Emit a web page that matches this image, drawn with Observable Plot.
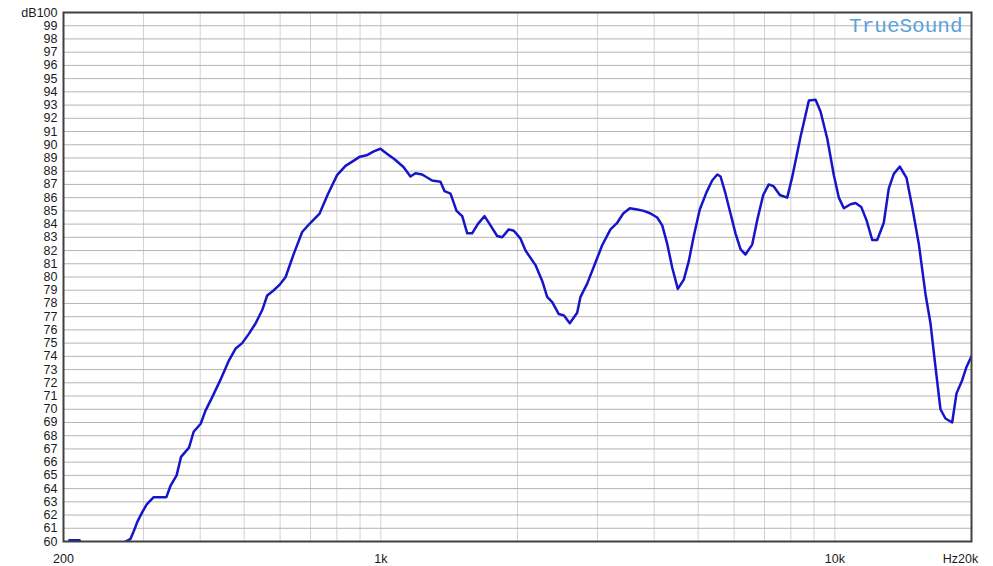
<!DOCTYPE html>
<html>
<head>
<meta charset="utf-8">
<script src="https://cdn.jsdelivr.net/npm/d3@7"></script>
<script src="https://cdn.jsdelivr.net/npm/@observablehq/plot@0.6"></script>
<style>
  html, body { margin: 0; padding: 0; background: #ffffff; }
  #chart svg { display: block; }
</style>
</head>
<body>
<div id="chart"></div>
<script>
// Frequency response (Hz) and SPL (dB)
const freqHz = [206, 217, 222, 267, 274, 281, 285, 291, 298, 305, 316, 337, 344, 355, 363, 378, 387, 401, 411, 425,
  443, 463, 479, 495, 512, 530, 548, 562, 581, 598, 617, 643, 671, 700, 733, 764, 801, 836, 872, 899,
  930, 965, 998, 1033, 1072, 1123, 1162, 1192, 1233, 1297, 1353, 1381, 1424, 1468, 1511, 1550, 1589, 1635, 1692, 1744,
  1804, 1851, 1913, 1963, 2031, 2083, 2191, 2267, 2325, 2385, 2466, 2529, 2607, 2707, 2753, 2848, 2970, 3073, 3205, 3316,
  3419, 3536, 3671, 3796, 3927, 4062, 4167, 4274, 4384, 4510, 4649, 4768, 4890, 5041, 5215, 5369, 5508, 5601, 5744, 5891,
  6042, 6197, 6356, 6576, 6746, 6954, 7154, 7337, 7564, 7854, 8055, 8404, 8767, 9071, 9303, 9625, 9951, 10206, 10468, 10830,
  11108, 11431, 11742, 12088, 12398, 12818, 13148, 13487, 13904, 14384, 14806, 15310, 15839, 16244, 16660, 17087, 17525, 18132, 18536, 19078,
  19500, 20000];
const splDb = [60.1, 60.1, 59.3, 59.3, 60.0, 60.2, 60.7, 61.5, 62.2, 62.8, 63.35, 63.35, 64.2, 65.0, 66.4, 67.1, 68.3, 68.9, 69.9, 70.9,
  72.2, 73.7, 74.6, 75.0, 75.7, 76.5, 77.5, 78.6, 79.0, 79.4, 80.0, 81.75, 83.4, 84.1, 84.8, 86.24, 87.7, 88.4, 88.8, 89.1,
  89.2, 89.5, 89.7, 89.3, 88.9, 88.3, 87.6, 87.85, 87.75, 87.3, 87.2, 86.5, 86.3, 85.0, 84.6, 83.3, 83.3, 84.0, 84.6, 83.9,
  83.1, 83.0, 83.6, 83.5, 82.9, 82.0, 80.9, 79.7, 78.5, 78.1, 77.2, 77.1, 76.5, 77.3, 78.5, 79.5, 81.1, 82.4, 83.6, 84.1,
  84.8, 85.2, 85.1, 85.0, 84.8, 84.5, 83.9, 82.5, 80.7, 79.1, 79.8, 81.2, 83.1, 85.1, 86.4, 87.3, 87.75, 87.6, 86.3, 84.8,
  83.3, 82.1, 81.7, 82.45, 84.3, 86.2, 87.0, 86.85, 86.2, 86.0, 87.55, 90.6, 93.35, 93.4, 92.5, 90.45, 87.7, 86.0, 85.2, 85.5,
  85.6, 85.3, 84.3, 82.8, 82.8, 84.1, 86.7, 87.8, 88.35, 87.5, 85.3, 82.5, 78.7, 76.5, 73.2, 70.0, 69.3, 69.0, 71.2, 72.2,
  73.2, 74.0];

const yTicks = d3.range(60, 101, 1);
const xGridHz = [300, 400, 500, 600, 700, 800, 900, 1000, 2000, 3000, 4000, 5000, 6000, 7000, 8000, 9000, 10000];
const xTickValues = [200, 1000, 10000];
const xTickLabels = ["200", "1k", "10k"];
const xEndValue = 20000;
const xEndLabel = "Hz20k";
const yTopLabel = "dB100";
const brandText = "TrueSound";

const data = freqHz.map((f, i) => ({f, db: splDb[i]}));

const chart = Plot.plot({
  width: 993,
  height: 566,
  marginLeft: 63,
  marginRight: 22,
  marginTop: 12,
  marginBottom: 25,
  x: {type: "log", domain: [200, 20000], label: null},
  y: {domain: [60, 100], label: null},
  style: {fontFamily: "'Liberation Sans', Arial, sans-serif", fontSize: "12.5px", background: "#ffffff", color: "#1a1a1a"},
  marks: [
    Plot.ruleX(xGridHz, {stroke: "#d2d2d2", strokeWidth: 1}),
    Plot.ruleY(yTicks, {stroke: "#b4b4b4", strokeWidth: 1}),
    Plot.text([brandText], {frameAnchor: "top-right", dx: -9, dy: 5, lineAnchor: "top", fill: "#5aa2dc",
      fontFamily: "'Liberation Mono', 'DejaVu Sans Mono', monospace", fontSize: 21}),
    Plot.line(data, {x: "f", y: "db", stroke: "#1616c8", strokeWidth: 2.5, clip: true}),
    Plot.frame({stroke: "#404040", strokeWidth: 2}),
    Plot.axisY({ticks: yTicks, tickSize: 0, tickPadding: 6, label: null,
      tickFormat: d => d === 100 ? yTopLabel : String(d)}),
    Plot.axisX({ticks: xTickValues, tickSize: 0, tickPadding: 13, label: null,
      tickFormat: d => xTickLabels[xTickValues.indexOf(d)]}),
    Plot.text([xEndLabel], {x: () => xEndValue, frameAnchor: "bottom", lineAnchor: "top", dy: 13, dx: -11})
  ]
});
document.getElementById("chart").appendChild(chart);
</script>
</body>
</html>
